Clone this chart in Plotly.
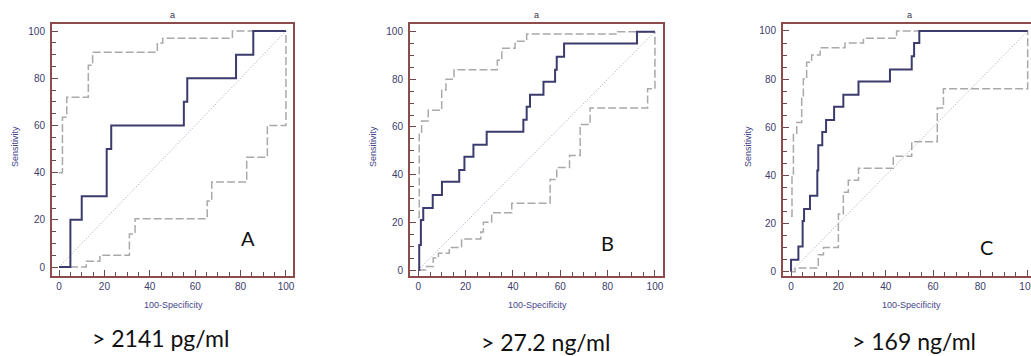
import plotly.graph_objects as go

W, H = 1031, 356

# ---- data ----
panel_letters = ["A", "B", "C"]
cutoff_labels = ["> 2141 pg/ml", "> 27.2 ng/ml", "> 169 ng/ml"]
tick_values = [0, 20, 40, 60, 80, 100]
diag_x = [0, 100]
diag_y = [0, 100]

A_roc_x = [0, 5, 10, 21, 23, 55, 56.5, 78, 85.6, 100]
A_roc_y = [0, 20, 30, 50, 60, 70, 80, 90, 100, 100]
A_up_x = [0, 1.5, 3.4, 12.9, 14.8, 43.3, 45.7, 76.4, 100]
A_up_y = [40, 63.5, 72, 85.5, 91, 95, 97, 100, 100]
A_lo_x = [0, 12, 18, 31, 33.5, 65.3, 67.3, 82.7, 91.8, 100]
A_lo_y = [0, 2.5, 5, 14, 20.5, 28, 36, 46.5, 60, 100]

B_roc_x = [0, 0.4, 1.1, 2.1, 6.1, 10, 17.3, 19.5, 23.3, 28.9, 44.4, 45.8, 47.2, 52.9, 57.8, 58.5, 61.6, 92.4, 100]
B_roc_y = [0, 10.5, 21, 26, 31.5, 37, 42, 47.5, 52.5, 58, 63, 68.5, 73.5, 79, 84, 89.5, 95, 100, 100]
B_up_x = [0, 0.4, 1.4, 4.2, 9.9, 11.7, 15.1, 33.4, 35.3, 40.9, 45.8, 84.2, 100]
B_up_y = [22, 57, 62.5, 67, 75.5, 80, 84, 88, 93, 96, 99, 100, 100]
B_lo_x = [0, 3.5, 6.3, 8.5, 13.1, 18.3, 26.4, 27.5, 31, 39.5, 55.7, 58.5, 63.9, 68.4, 72.6, 96.9, 100]
B_lo_y = [0, 1.5, 5, 7, 9.5, 13, 16, 20, 24, 28, 38, 43, 48, 61, 68, 76, 100]

C_roc_x = [0, 0, 3.1, 4.9, 5.5, 8, 11.1, 11.5, 13.2, 14.8, 18.2, 22.1, 28.5, 41.8, 51, 52, 54.2, 100]
C_roc_y = [0, 5, 10.5, 21, 26, 31.5, 42, 52.5, 58, 63, 68.5, 73.5, 79, 84, 89.5, 95, 100, 100]
C_up_x = [0, 0.4, 1, 2.4, 4.5, 5.2, 6.6, 8.7, 12.3, 22.8, 30.6, 44.6, 100]
C_up_y = [23, 40, 57, 62, 72, 80, 87, 90, 93, 95, 97, 100, 100]
C_lo_x = [0, 1.7, 11.5, 13.7, 20, 22.1, 24.2, 28.5, 43.2, 51, 61.8, 64.4, 100]
C_lo_y = [0, 1.5, 7, 10, 24, 33, 38, 43, 48, 54, 68, 76, 100]

# ---- styling / layout ----
ROC_COLOR = "#3b3b6d"
CI_COLOR = "#a9a9a9"
DIAG_COLOR = "#9da3c2"
FRAME = "#8e4b4b"
TICKFONT = dict(family="Liberation Sans, Arial", size=10, color="#3c3c6c")
TITLEFONT = dict(family="Liberation Sans, Arial", size=9, color="#45458a")

def px_x(p):
    return p / W

def px_y(p):
    return 1 - p / H

panels = [
    dict(roc=(A_roc_x, A_roc_y), up=(A_up_x, A_up_y), lo=(A_lo_x, A_lo_y),
         dom=(52, 293), xr=[-3.1, 103.1], yr=[-3.8, 103], mirror_y=True,
         letter_xy=(83.3, 12.3), xtitle_px=173, ytitle_px=15, cut_px=(160, 338)),
    dict(roc=(B_roc_x, B_roc_y), up=(B_up_x, B_up_y), lo=(B_lo_x, B_lo_y),
         dom=(410, 663), xr=[-3.5, 103.4], yr=[-2.5, 103.2], mirror_y=True,
         letter_xy=(79.8, 11.3), xtitle_px=537, ytitle_px=373, cut_px=(545, 342)),
    dict(roc=(C_roc_x, C_roc_y), up=(C_up_x, C_up_y), lo=(C_lo_x, C_lo_y),
         dom=(783, 1031), xr=[-3.4, 101.4], yr=[-1.8, 102.9], mirror_y=False,
         letter_xy=(82.8, 10.3), xtitle_px=911, ytitle_px=748, cut_px=(914, 341)),
]

fig = go.Figure()
layout = dict(
    width=W, height=H, margin=dict(l=0, r=0, t=0, b=0, autoexpand=False),
    paper_bgcolor="white", plot_bgcolor="white", showlegend=False,
)
annotations = []
ydom = [px_y(276), px_y(24)]

for i, p in enumerate(panels):
    n = "" if i == 0 else str(i + 1)
    xa, ya = "x" + n, "y" + n
    fig.add_trace(go.Scatter(x=diag_x, y=diag_y, mode="lines", xaxis=xa, yaxis=ya,
                             line=dict(color=DIAG_COLOR, width=1, dash="1px,2px"),
                             hoverinfo="skip"))
    for key in ("up", "lo"):
        fig.add_trace(go.Scatter(x=p[key][0], y=p[key][1], mode="lines", xaxis=xa, yaxis=ya,
                                 line=dict(color=CI_COLOR, width=1.5, dash="8px,3px", shape="hv")))
    fig.add_trace(go.Scatter(x=p["roc"][0], y=p["roc"][1], mode="lines", xaxis=xa, yaxis=ya,
                             line=dict(color=ROC_COLOR, width=2, shape="hv")))

    axis_common = dict(
        showgrid=False, zeroline=False, showline=True, linecolor=FRAME, linewidth=2,
        ticks="inside", ticklen=6, tickwidth=1, tickcolor="#6a4a4a",
        tickmode="array", tickvals=tick_values, ticktext=[str(v) for v in tick_values],
        tickfont=TICKFONT, automargin=False,
        minor=dict(ticks="inside", ticklen=4, tickwidth=1, tickcolor="#6a4a4a",
                   tick0=0, dtick=5, showgrid=False),
    )
    layout["xaxis" + n] = dict(axis_common, domain=[px_x(p["dom"][0]), px_x(p["dom"][1])],
                               range=p["xr"], anchor=ya, mirror=True, fixedrange=True,
                               ticklabeloverflow="allow")
    layout["yaxis" + n] = dict(axis_common, domain=ydom, range=p["yr"], anchor=xa,
                               mirror=p["mirror_y"], fixedrange=True, ticklabelstandoff=3)

    cx = (p["dom"][0] + p["dom"][1]) / 2 if i < 2 else 909
    common_ann = dict(xref="paper", yref="paper", showarrow=False,
                      xanchor="center", yanchor="middle")
    annotations.append(dict(common_ann, text="a", x=px_x(cx), y=px_y(15),
                            font=dict(family="Liberation Sans, Arial", size=9, color="#333344")))
    annotations.append(dict(common_ann, text="100-Specificity", x=px_x(p["xtitle_px"]),
                            y=px_y(305), font=TITLEFONT))
    annotations.append(dict(common_ann, text="Sensitivity", x=px_x(p["ytitle_px"]),
                            y=px_y(147), textangle=-90, font=TITLEFONT))
    annotations.append(dict(text=panel_letters[i], x=p["letter_xy"][0], y=p["letter_xy"][1],
                            xref=xa, yref=ya, showarrow=False, xanchor="center", yanchor="middle",
                            font=dict(family="Lato, Carlito, Calibri, sans-serif", size=20, color="#111111")))
    annotations.append(dict(common_ann, text=cutoff_labels[i], x=px_x(p["cut_px"][0]),
                            y=px_y(p["cut_px"][1]),
                            font=dict(family="Lato, Carlito, Calibri, sans-serif", size=23, color="#111111")))

layout["annotations"] = annotations
fig.update_layout(**layout)
fig.write_html("out.html", config={"displayModeBar": False},
               post_script="document.body.style.margin='0';document.body.style.overflow='hidden';")
